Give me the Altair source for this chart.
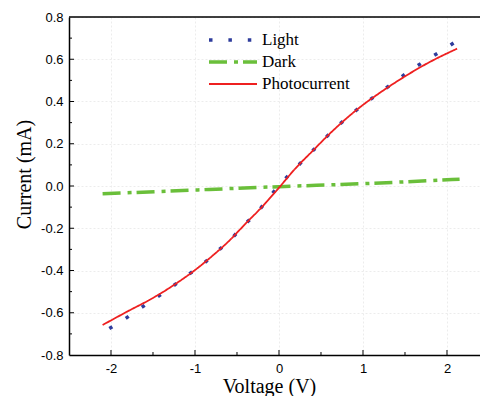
import altair as alt
import pandas as pd

# ---- data ----
light_v = [-2.02, -1.845, -1.667, -1.473, -1.29, -1.11, -0.925, -0.746, -0.576, -0.417,
           -0.258, -0.119, 0.03, 0.186, 0.337, 0.492, 0.655, 0.821, 1.0, 1.179, 1.357,
           1.536, 1.726, 1.912, 2.12]
light_i = [-0.675, -0.632, -0.583, -0.532, -0.482, -0.428, -0.376, -0.313, -0.253, -0.185,
           -0.125, -0.054, 0.015, 0.079, 0.142, 0.202, 0.269, 0.326, 0.384, 0.436, 0.487,
           0.539, 0.589, 0.634, 0.688]

dark_v = [-2.1, -1.0, 0.0, 1.0, 2.15]
dark_i = [-0.037, -0.019, -0.003, 0.011, 0.032]

photo_v = [-2.1, -1.8, -1.5, -1.2, -1.0, -0.8, -0.6, -0.4, -0.2, 0.0,
           0.2, 0.4, 0.6, 0.8, 1.0, 1.2, 1.5, 1.8, 2.12]
photo_i = [-0.658, -0.593, -0.530, -0.455, -0.398, -0.333, -0.262, -0.179, -0.098, -0.008,
           0.085, 0.166, 0.246, 0.319, 0.384, 0.441, 0.519, 0.588, 0.650]

series = ["Light", "Dark", "Photocurrent"]
colors = ["#2e3c9c", "#6abf3a", "#ee2020"]
dashes = [[3.5, 15.9], [18, 7, 4, 5], [1, 0]]
widths = [3.5, 3.5, 1.8]

x_major = [-2, -1, 0, 1, 2]
x_minor = [-1.5, -0.5, 0.5, 1.5]
y_major = [-0.6, -0.4, -0.2, 0.0, 0.2, 0.4, 0.6]
y_minor = [-0.7, -0.5, -0.3, -0.1, 0.1, 0.3, 0.5, 0.7]
y_labels = [-0.8, -0.6, -0.4, -0.2, 0.0, 0.2, 0.4, 0.6, 0.8]

rows = []
for s, vs, cs in [("Light", light_v, light_i), ("Dark", dark_v, dark_i), ("Photocurrent", photo_v, photo_i)]:
    for k, (v, c) in enumerate(zip(vs, cs)):
        rows.append({"series": s, "V": v, "I": c, "k": k})
df = pd.DataFrame(rows)

W, H = 411, 338
xdom = [-2.5, 2.393]
ydom = [-0.8, 0.8]

xs = alt.Scale(domain=xdom, nice=False, zero=False)
ys = alt.Scale(domain=ydom, nice=False, zero=False)

lines = alt.Chart(df).mark_line(strokeCap="butt", interpolate="monotone").encode(
    x=alt.X("V:Q", scale=xs, title="Voltage (V)",
            axis=alt.Axis(values=x_major, ticks=False, tickSize=0, labelPadding=7,
                          labelExpr="replace(format(datum.value, 'd'), '−', '-')",
                          grid=True, gridColor="#ececec", gridDash=[2, 2],
                          titlePadding=1, titleX=200)),
    y=alt.Y("I:Q", scale=ys, title="Current (mA)",
            axis=alt.Axis(values=y_labels, ticks=False, tickSize=0, labelPadding=6,
                          labelExpr="replace(format(datum.value, '.1f'), '−', '-')",
                          grid=True, gridColor="#ececec", gridDash=[2, 2],
                          titlePadding=6, titleY=157)),
    color=alt.Color("series:N", scale=alt.Scale(domain=series, range=colors),
                    legend=alt.Legend(title=None, orient="none", legendX=138, legendY=12,
                                      symbolType="stroke", symbolSize=2304,
                                      clipHeight=22, rowPadding=0, padding=0,
                                      labelFont="Liberation Serif", labelFontSize=17,
                                      labelColor="#000000", labelOffset=3)),
    strokeDash=alt.StrokeDash("series:N", scale=alt.Scale(domain=series, range=dashes), legend=None),
    strokeWidth=alt.StrokeWidth("series:N", scale=alt.Scale(type="ordinal", domain=series, range=widths), legend=None),
    order="k:Q",
)

xt_major = alt.Chart(pd.DataFrame({"t": x_major})).mark_rule(color="black", strokeWidth=1).encode(
    x=alt.X("t:Q", scale=xs), y=alt.value(H), y2=alt.value(H - 5))
xt_minor = alt.Chart(pd.DataFrame({"t": x_minor})).mark_rule(color="black", strokeWidth=1).encode(
    x=alt.X("t:Q", scale=xs), y=alt.value(H), y2=alt.value(H - 3))
yt_major = alt.Chart(pd.DataFrame({"t": y_major})).mark_rule(color="black", strokeWidth=1).encode(
    y=alt.Y("t:Q", scale=ys), x=alt.value(0), x2=alt.value(5))
yt_minor = alt.Chart(pd.DataFrame({"t": y_minor})).mark_rule(color="black", strokeWidth=1).encode(
    y=alt.Y("t:Q", scale=ys), x=alt.value(0), x2=alt.value(3))
top = alt.Chart(pd.DataFrame({"t": [ydom[1]]})).mark_rule(color="black", strokeWidth=1.5).encode(
    y=alt.Y("t:Q", scale=ys), x=alt.value(0), x2=alt.value(W))

chart = alt.layer(lines, xt_major, xt_minor, yt_major, yt_minor, top).properties(
    width=W, height=H,
    autosize=alt.AutoSizeParams(type="none"),
    padding={"left": 69, "top": 17, "right": 0, "bottom": 41},
).configure(
    background="white",
    view=alt.ViewConfig(stroke=None),
    axis=alt.AxisConfig(
        domainColor="black", domainWidth=1.5,
        labelFont="Liberation Sans", labelFontSize=13, labelColor="#000000",
        titleFont="Liberation Serif", titleFontSize=20, titleFontWeight="normal", titleColor="#000000",
    ),
)

chart.save("out.html", embed_options={"renderer": "svg", "actions": False})
